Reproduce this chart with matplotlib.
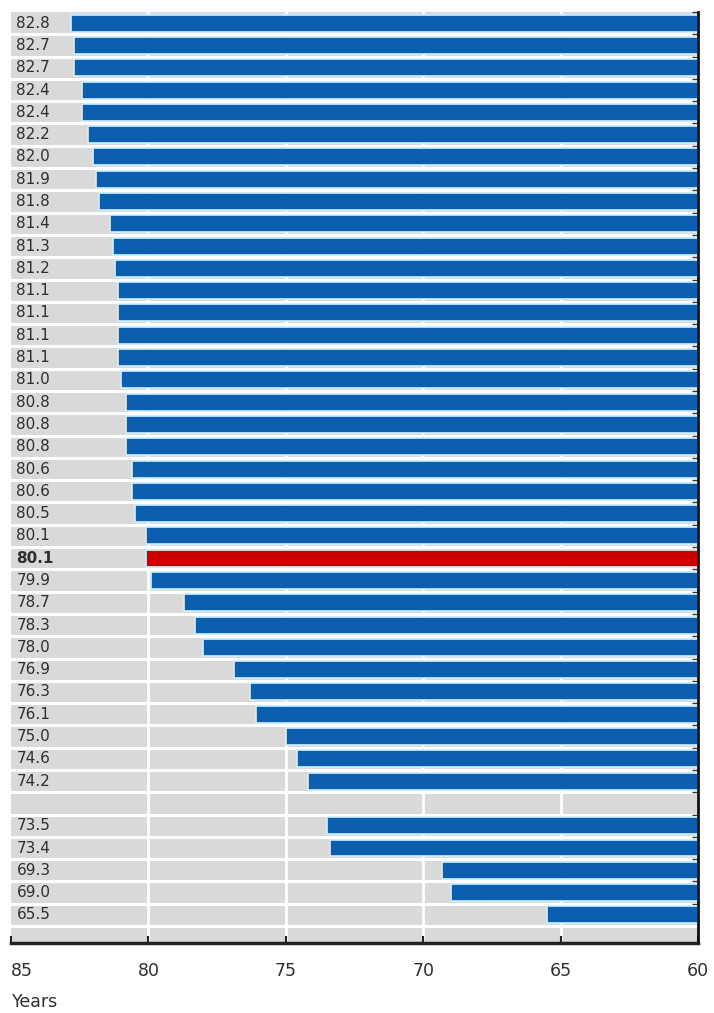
import matplotlib
matplotlib.use('Agg')
import matplotlib.pyplot as plt
import matplotlib.transforms as mtransforms
import numpy as np

# life expectancy, top to bottom; None = empty separator row
values = [82.8, 82.7, 82.7, 82.4, 82.4, 82.2, 82.0, 81.9, 81.8, 81.4,
          81.3, 81.2, 81.1, 81.1, 81.1, 81.1, 81.0, 80.8, 80.8, 80.8,
          80.6, 80.6, 80.5, 80.1, 80.1, 79.9, 78.7, 78.3, 78.0, 76.9,
          76.3, 76.1, 75.0, 74.6, 74.2, None, 73.5, 73.4, 69.3, 69.0, 65.5]
labels = ['82.8', '82.7', '82.7', '82.4', '82.4', '82.2', '82.0', '81.9', '81.8', '81.4',
          '81.3', '81.2', '81.1', '81.1', '81.1', '81.1', '81.0', '80.8', '80.8', '80.8',
          '80.6', '80.6', '80.5', '80.1', '80.1', '79.9', '78.7', '78.3', '78.0', '76.9',
          '76.3', '76.1', '75.0', '74.6', '74.2', '', '73.5', '73.4', '69.3', '69.0', '65.5']
highlight = 24  # OECD average row
x_ticks = [85, 80, 75, 70, 65, 60]

BLUE = '#0b5fae'
RED = '#cc0000'
GREY = '#d9d9d9'
TEXT = '#2f2f2f'

fig = plt.figure(figsize=(7.14, 10.13), dpi=100)
ax = fig.add_axes([11 / 714, 1 - 943 / 1013, 687 / 714, 931 / 1013])
ax.set_facecolor(GREY)

n = len(values)
ax.set_xlim(85, 60)
ax.set_ylim(n - 1 + 1.26, -0.5)

# white row separators and vertical grid
for i in range(n):
    ax.axhline(i + 0.5, color='white', lw=2.2, zorder=1)
for xv in [80, 75, 70, 65]:
    ax.axvline(xv, color='white', lw=2, zorder=1)

for i, v in enumerate(values):
    if v is None:
        continue
    c = RED if i == highlight else BLUE
    ax.barh(i, v - 60, left=60, height=0.76, color=c,
            edgecolor='#cdf1ff', linewidth=1.2, zorder=2)

trans = mtransforms.blended_transform_factory(ax.transAxes, ax.transData)
for i, lab in enumerate(labels):
    if not lab:
        continue
    ax.text(0.008, i, lab, transform=trans, ha='left', va='center',
            fontsize=11, color=TEXT,
            fontweight='bold' if i == highlight else 'normal', zorder=3)

# axes styling
for side in ['left', 'top']:
    ax.spines[side].set_visible(False)
ax.spines['bottom'].set_linewidth(2.5)
ax.spines['bottom'].set_color('#222222')
ax.spines['right'].set_linewidth(2)
ax.spines['right'].set_color('#111111')
ax.spines['bottom'].set_zorder(5)
ax.spines['right'].set_zorder(5)

ax.set_xticks(x_ticks)
ax.set_xticklabels([str(t) for t in x_ticks], fontsize=12.5, color=TEXT)
ax.tick_params(axis='x', direction='in', length=5, width=1.5, color='#222222', pad=14)
ax.get_xticklabels()[0].set_horizontalalignment('left')

ax.yaxis.tick_right()
ax.set_yticks([i + 0.5 for i in range(-1, n - 1)])
ax.set_yticklabels([])
ax.tick_params(axis='y', direction='in', length=4, width=1, color='#333333')

fig.text(12 / 714, 1 - 1002 / 1013, 'Years', fontsize=12.5, color=TEXT,
         ha='left', va='center')

plt.savefig('out.png', dpi=100)
